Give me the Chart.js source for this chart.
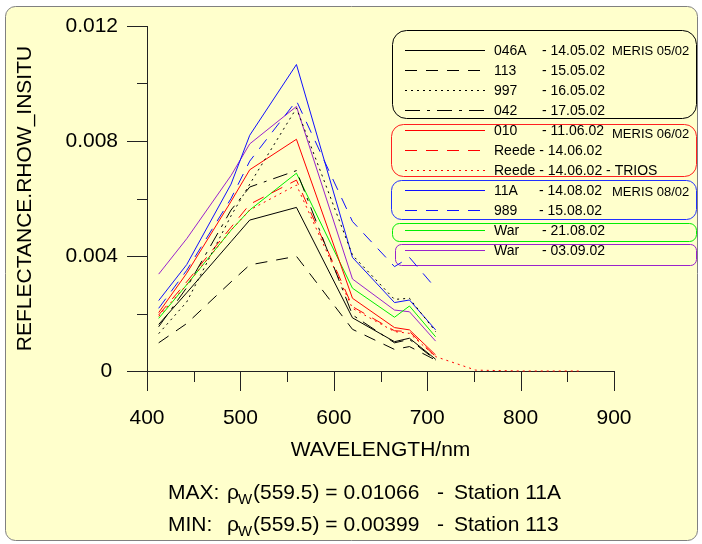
<!DOCTYPE html>
<html><head><meta charset="utf-8">
<script src="https://cdn.jsdelivr.net/npm/chart.js@4"></script>
<style>html,body{margin:0;padding:0;background:#fff;}canvas{display:block}</style>
</head><body>
<canvas id="c" width="702" height="544"></canvas>
<script>
// ---------- DATA ----------
const wavelengths = [412.5, 442.5, 490, 510, 560, 620, 665, 681, 709];
const triosWavelengths = [412.5, 442.5, 490, 510, 560, 620, 665, 681, 709, 752, 800, 864];
const xTickLabels = [400, 500, 600, 700, 800, 900];
const yTickLabels = [0, 0.004, 0.008, 0.012];

const s046A     = [0.00162, 0.00272, 0.0045, 0.00525, 0.00569, 0.00185, 0.00102, 0.00114, 0.00041];
const s113      = [0.00098, 0.00165, 0.0031, 0.00369, 0.00399, 0.00145, 0.00075, 0.00085, 0.00038];
const s997      = [0.0013, 0.0024, 0.0054, 0.0065, 0.00914, 0.00403, 0.00249, 0.00253, 0.00137];
const s042      = [0.00154, 0.0029, 0.0056, 0.0064, 0.00697, 0.00195, 0.00098, 0.0011, 0.00038];
const s010      = [0.00203, 0.0034, 0.0059, 0.0070, 0.00806, 0.00253, 0.00151, 0.00143, 0.00056];
const sReede    = [0.00195, 0.0031, 0.0050, 0.0058, 0.00664, 0.00224, 0.0014, 0.00137, 0.0005];
const sReedeTrios = [0.0019, 0.003, 0.0049, 0.0056, 0.00647, 0.00218, 0.00137, 0.00131, 0.0005, 0.00003, 0, 0];
const s11A      = [0.00245, 0.0037, 0.0065, 0.0082, 0.01066, 0.00395, 0.00238, 0.00247, 0.00143];
const s989      = [0.00218, 0.0035, 0.0060, 0.0073, 0.0094, 0.0052, 0.00363, 0.00395, 0.00288];
const sWar2108  = [0.00183, 0.0030, 0.0049, 0.0056, 0.00688, 0.00288, 0.00187, 0.00226, 0.00119];
const sWar0309  = [0.00337, 0.0046, 0.0068, 0.0079, 0.0092, 0.0032, 0.00212, 0.00206, 0.00104];

const stationNames = ['046A','113','997','042','010','Reede','Reede','11A','989','War','War'];
const stationDates = ['- 14.05.02','- 15.05.02','- 16.05.02','- 17.05.02','- 11.06.02','- 14.06.02','- 14.06.02 - TRIOS','- 14.08.02','- 15.08.02','- 21.08.02','- 03.09.02'];
const groupNotes = ['MERIS 05/02','MERIS 06/02','MERIS 08/02','',''];
const axisTitleX = 'WAVELENGTH/nm';
const axisTitleY = 'REFLECTANCE.RHOW_INSITU';
const maxText = ['MAX:', '(559.5) = 0.01066', 'Station 11A'];
const minText = ['MIN:', '(559.5) = 0.00399', 'Station 113'];

// ---------- STYLES ----------
const BLACK='#000000', RED='#ff0000', BLUE='#1010ff', GREEN='#00ee00', PURPLE='#9a22cc';
const DASH=[12,9], DOT=[2,4], DASHDOT=[15,7,3,7];
const seriesValues = [s046A,s113,s997,s042,s010,sReede,sReedeTrios,s11A,s989,sWar2108,sWar0309];
const seriesX = [wavelengths,wavelengths,wavelengths,wavelengths,wavelengths,wavelengths,triosWavelengths,wavelengths,wavelengths,wavelengths,wavelengths];
const seriesColor = [BLACK,BLACK,BLACK,BLACK,RED,RED,RED,BLUE,BLUE,GREEN,PURPLE];
const seriesDash = [[],DASH,DOT,DASHDOT,[],DASH,DOT,[],DASH,[],[]];

const FONT = '"Liberation Sans", Arial, sans-serif';

const datasets = seriesValues.map((vals,i)=>({
  label: stationNames[i]+' '+stationDates[i],
  data: vals.map((v,j)=>({x:seriesX[i][j], y:v})),
  borderColor: seriesColor[i],
  borderWidth: 1,
  borderDash: seriesDash[i],
  pointRadius: 0,
  tension: 0,
  fill: false,
  clip: false
}));

const legendBoxes = [
  {color:'#000000', x:392.5, y:30.5, w:304, h:88, r:14, rows:[0,1,2,3], noteY:50},
  {color:'#ff2020', x:391.5, y:124.5, w:305, h:52, r:12, rows:[4,5,6], noteY:133.5},
  {color:'#2030ff', x:391.5, y:180.5, w:305, h:39, r:10, rows:[7,8], noteY:191},
  {color:'#00ee00', x:392.5, y:223.5, w:304, h:18, r:7, rows:[9]},
  {color:'#9a22cc', x:395.5, y:244.5, w:301, h:21, r:6, rows:[10]}
];

const decorPlugin = {
  id:'decor',
  beforeDraw(chart){
    const ctx = chart.ctx;
    ctx.save();
    ctx.fillStyle='#ffffff'; ctx.fillRect(0,0,chart.width,chart.height);
    ctx.beginPath(); ctx.roundRect(5.5,6.5,692,534,10);
    ctx.fillStyle='#ffffcc'; ctx.fill();
    ctx.strokeStyle='#808080'; ctx.lineWidth=1; ctx.stroke();
    ctx.restore();
  },
  beforeDatasetsDraw(chart){
    const ctx = chart.ctx;
    ctx.save();
    legendBoxes.forEach((b,gi)=>{
      ctx.beginPath(); ctx.roundRect(b.x,b.y,b.w,b.h,b.r);
      ctx.strokeStyle=b.color; ctx.lineWidth=1; ctx.setLineDash([]); ctx.stroke();
      b.rows.forEach(i=>{
        const y = 50 + i*20;
        ctx.beginPath(); ctx.setLineDash(seriesDash[i]);
        ctx.strokeStyle=seriesColor[i]; ctx.moveTo(405,y+0.5); ctx.lineTo(485,y+0.5); ctx.stroke();
        ctx.setLineDash([]);
        ctx.fillStyle='#000'; ctx.font='14px '+FONT; ctx.textBaseline='middle'; ctx.textAlign='left';
        if (stationNames[i]==='Reede') {
          ctx.fillText(stationNames[i]+' '+stationDates[i], 494, y+1);
        } else {
          ctx.fillText(stationNames[i], 494, y+1);
          ctx.fillText(stationDates[i], i>=7 && i<=8 ? 539 : 542, y+1);
        }
      });
      if (groupNotes[gi]) {
        ctx.font='13px '+FONT; ctx.fillStyle='#000';
        ctx.fillText(groupNotes[gi], 612, b.noteY+1);
      }
    });
    ctx.restore();
  },
  afterDraw(chart){
    const ctx = chart.ctx, ax = chart.scales.x, ay = chart.scales.y;
    ctx.save();
    ctx.strokeStyle='#222'; ctx.lineWidth=1; ctx.setLineDash([]);
    for (let v=400; v<=900; v+=50){
      const px = Math.round(ax.getPixelForValue(v))+0.5;
      const len = v%100===0 ? 20 : 11;
      ctx.beginPath(); ctx.moveTo(px, ay.bottom); ctx.lineTo(px, ay.bottom+len); ctx.stroke();
    }
    for (let k=0; k<=6; k++){
      const v = k*0.002;
      const py = Math.round(ay.getPixelForValue(v))+0.5;
      const len = k%2===0 ? 20 : 10;
      ctx.beginPath(); ctx.moveTo(ax.left-len, py); ctx.lineTo(ax.left, py); ctx.stroke();
    }
    ctx.fillStyle='#000'; ctx.textBaseline='alphabetic'; ctx.textAlign='left';
    [[maxText,499],[minText,530.5]].forEach(([t,y])=>{
      ctx.font='21px '+FONT;
      ctx.fillText(t[0],168,y);
      ctx.fillText('\u03C1',227,y);
      ctx.font='15px '+FONT;
      ctx.fillText('W',238,y+5);
      ctx.font='21px '+FONT;
      ctx.fillText(t[1],253,y);
      ctx.fillText('-',437,y);
      ctx.fillText(t[2],454,y);
    });
    ctx.restore();
  }
};

new Chart(document.getElementById('c'), {
  type:'line',
  data:{datasets},
  options:{
    responsive:false,
    animation:false,
    devicePixelRatio:1,
    layout:{padding:{top:26,right:88,left:0,bottom:0}},
    plugins:{legend:{display:false},tooltip:{enabled:false}},
    scales:{
      x:{
        type:'linear', min:400, max:900,
        afterBuildTicks(s){ s.ticks = xTickLabels.map(v=>({value:v})); },
        afterFit(s){ s.height = 173; s.paddingLeft = 0; s.paddingRight = 0; },
        ticks:{font:{size:21,family:FONT}, color:'#000', padding:35, maxRotation:0, autoSkip:false},
        grid:{display:true, drawOnChartArea:false, drawTicks:false},
        border:{display:true,color:'#222',width:1},
        title:{display:true,text:axisTitleX,font:{size:21,family:FONT},color:'#000',padding:{top:0,bottom:81}}
      },
      y:{
        type:'linear', min:0, max:0.012,
        afterBuildTicks(s){ s.ticks = yTickLabels.map(v=>({value:v})); },
        afterFit(s){ s.width = 147; s.paddingTop = 0; s.paddingBottom = 0; },
        ticks:{font:{size:21,family:FONT}, color:'#000', padding:29, callback:v=> v===0 ? '0 ' : String(v)},
        grid:{display:true, drawOnChartArea:false, drawTicks:false},
        border:{display:true,color:'#222',width:1},
        title:{display:true,text:axisTitleY,font:{size:21,family:FONT},color:'#000',padding:{top:13,bottom:0}}
      }
    }
  },
  plugins:[decorPlugin]
});
</script>
</body></html>
